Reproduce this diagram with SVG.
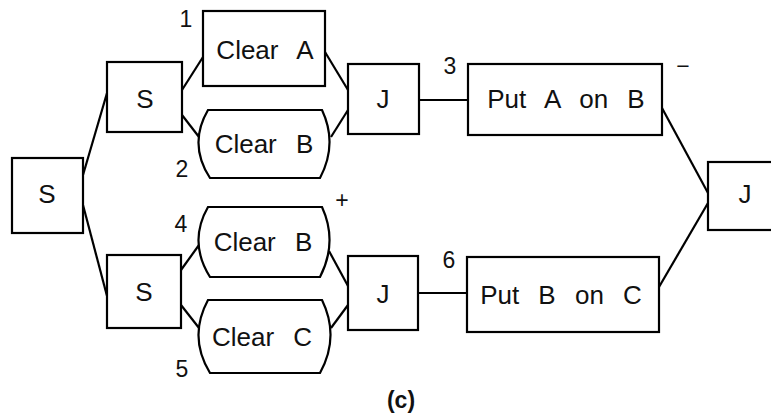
<svg xmlns="http://www.w3.org/2000/svg" width="771" height="417" viewBox="0 0 771 417">
<style>
.n rect, .n path { fill: #fff; stroke: #000; stroke-width: 2.2; }
.t { font-family: "Liberation Sans", Arial, sans-serif; font-size: 26px; fill: #111; text-anchor: middle; word-spacing: 12px; }
.lbl { font-family: "Liberation Sans", Arial, sans-serif; font-size: 23px; fill: #111; text-anchor: middle; }
#connectors line { stroke: #000; stroke-width: 2.2; fill: none; }
</style>
<rect width="771" height="417" fill="#fff"/>
<g id="connectors">
  <line x1="83" y1="175" x2="107" y2="93"/>
  <line x1="83" y1="205" x2="107" y2="296"/>
  <line x1="182" y1="90" x2="203" y2="57"/>
  <line x1="182" y1="115" x2="199" y2="137"/>
  <line x1="325" y1="52" x2="348" y2="90"/>
  <line x1="331" y1="137" x2="348" y2="110"/>
  <line x1="181" y1="270" x2="199" y2="245"/>
  <line x1="181" y1="305" x2="199" y2="328"/>
  <line x1="329" y1="251" x2="348" y2="286"/>
  <line x1="331" y1="328" x2="348" y2="305"/>
  <line x1="419" y1="100" x2="468" y2="100"/>
  <line x1="418" y1="293" x2="467" y2="293"/>
  <line x1="662" y1="108" x2="708" y2="193"/>
  <line x1="659" y1="287" x2="708" y2="203"/>
</g>
<g id="s0" class="n"><rect x="12" y="158" width="71" height="75"/><text class="t" x="47" y="203">S</text></g>
<g id="s1" class="n"><rect x="107" y="62" width="75" height="70"/><text class="t" x="145" y="108">S</text></g>
<g id="s2" class="n"><rect x="107" y="255" width="74" height="73"/><text class="t" x="144" y="301">S</text></g>
<g id="clearA" class="n"><rect x="203" y="11" width="122" height="75"/><text class="t" x="265" y="59">Clear A</text></g>
<g id="clearB1" class="n"><path d="M208 110 H322 Q338 144 320 178 H210 Q188 144 208 110 Z"/><text class="t" x="264" y="153">Clear B</text></g>
<g id="clearB2" class="n"><path d="M208 207 H322 Q338 242 320 277 H210 Q188 242 208 207 Z"/><text class="t" x="263" y="251">Clear B</text></g>
<g id="clearC" class="n"><path d="M208 300 H322 Q340 337 320 373 H210 Q188 337 208 300 Z"/><text class="t" x="262" y="346">Clear C</text></g>
<g id="j1" class="n"><rect x="348" y="64" width="71" height="70"/><text class="t" x="383" y="108">J</text></g>
<g id="j2" class="n"><rect x="348" y="256" width="70" height="74"/><text class="t" x="383" y="303">J</text></g>
<g id="putAB" class="n"><rect x="468" y="64" width="194" height="71"/><text class="t" x="566" y="108">Put A on B</text></g>
<g id="putBC" class="n"><rect x="467" y="257" width="192" height="75"/><text class="t" x="561" y="304">Put B on C</text></g>
<g id="j3" class="n"><rect x="708" y="162" width="70" height="68"/><text class="t" x="745" y="203">J</text></g>
<g id="labels">
  <text class="lbl" x="186" y="27">1</text>
  <text class="lbl" x="182" y="177">2</text>
  <text class="lbl" x="450" y="74">3</text>
  <text class="lbl" x="181" y="232">4</text>
  <text class="lbl" x="182" y="377">5</text>
  <text class="lbl" x="449" y="268">6</text>
  <text class="lbl" x="342" y="208" font-size="18">+</text>
  <text class="lbl" x="683" y="74">−</text>
  <text class="lbl" x="401" y="408" font-weight="bold" font-size="21">(c)</text>
</g>
</svg>
